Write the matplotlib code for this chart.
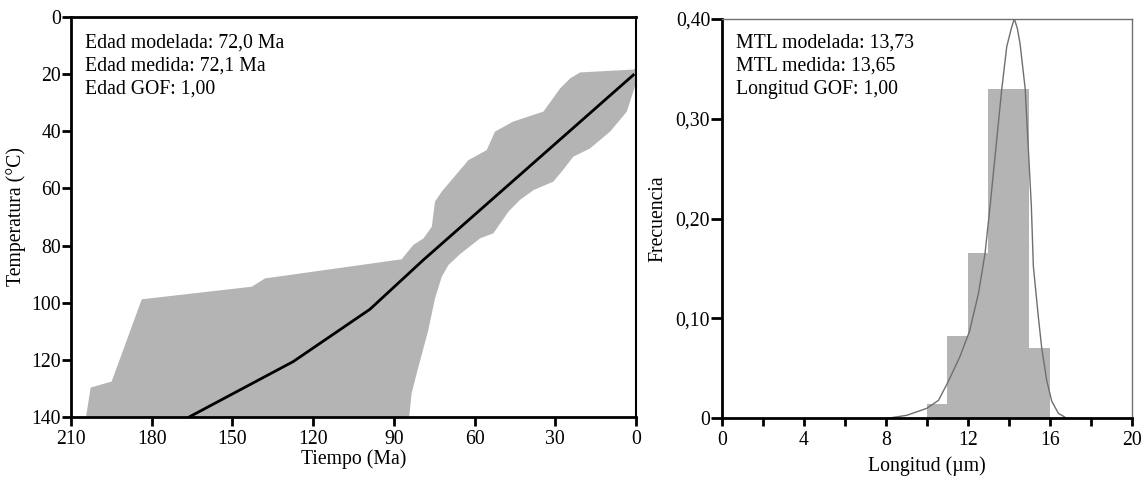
import matplotlib
matplotlib.use("Agg")
import matplotlib.pyplot as plt
from matplotlib.ticker import FixedLocator

plt.rcParams['font.family'] = ['Liberation Serif', 'DejaVu Serif']

# ---------------- Data: left panel (thermal history) ----------------
band_upper_time = [204.4, 202.7, 194.9, 183.7, 142.8, 137.9, 87.1, 82.8, 79.0, 75.9, 74.7, 72.2,
                   62.3, 55.5, 52.4, 45.6, 34.4, 28.2, 24.5, 20.8, 1.0, 0.0]
band_upper_temp = [140.0, 129.7, 127.6, 98.8, 94.4, 91.5, 84.8, 79.8, 77.5, 73.4, 64.6, 61.1,
                   50.1, 46.6, 40.1, 36.6, 33.1, 25.0, 21.5, 19.4, 18.4, 18.0]
band_lower_time = [0.0, 0.3, 3.4, 9.6, 17.1, 23.3, 27.6, 30.7, 38.1, 43.1, 47.4, 53.0, 58.0,
                   65.4, 69.7, 72.2, 74.7, 77.2, 81.5, 83.4, 84.3]
band_lower_temp = [19.0, 24.0, 33.1, 40.1, 46.0, 48.9, 54.1, 57.6, 60.6, 64.0, 68.1, 75.7, 77.5,
                   83.0, 86.8, 90.9, 98.5, 109.6, 124.7, 131.7, 140.0]
path_time = [166.1, 127.4, 98.9, 79.0, 1.0]
path_temp = [140.0, 120.6, 102.3, 85.0, 20.3]

left_xticks = [210, 180, 150, 120, 90, 60, 30, 0]
left_yticks = [0, 20, 40, 60, 80, 100, 120, 140]
left_text = ["Edad modelada: 72,0 Ma", "Edad medida: 72,1 Ma", "Edad GOF: 1,00"]

# ---------------- Data: right panel (track lengths) ----------------
bin_left = [10, 11, 12, 13, 14, 15]
bin_freq = [0.014, 0.082, 0.165, 0.330, 0.330, 0.070]
curve_x = [8.08, 9.02, 10.0, 10.57, 11.05, 11.62, 12.08, 12.52, 12.84, 13.09, 13.66, 13.9,
           14.12, 14.27, 14.42, 14.55, 14.8, 15.1, 15.2, 15.44, 15.61, 15.85, 16.1, 16.42, 16.83]
curve_y = [0.0, 0.003, 0.010, 0.018, 0.037, 0.062, 0.087, 0.125, 0.165, 0.213, 0.330, 0.372,
           0.390, 0.400, 0.390, 0.375, 0.330, 0.213, 0.152, 0.102, 0.070, 0.038, 0.017, 0.005, 0.0]
right_xticks = [0, 4, 8, 12, 16, 20]
right_xminor = [2, 6, 10, 14, 18]
right_yticks = [0, 0.10, 0.20, 0.30, 0.40]
right_ylabels = ["0", "0,10", "0,20", "0,30", "0,40"]
right_text = ["MTL modelada: 13,73", "MTL medida: 13,65", "Longitud GOF: 1,00"]

W, H = 1148, 479
fig = plt.figure(figsize=(W / 100, H / 100), dpi=100)

FS = 14.2
GRAY = "#b4b4b4"
LS = 1.28

# ---------------- Left panel ----------------
axL = fig.add_axes([71 / W, 1 - 417 / H, (636 - 71) / W, (417 - 17) / H])
poly_t = band_upper_time + band_lower_time
poly_T = band_upper_temp + band_lower_temp
axL.fill(poly_t, poly_T, color=GRAY, lw=0, zorder=1)
axL.plot(path_time, path_temp, color="black", lw=2, zorder=3)
axL.set_xlim(210, 0)
axL.set_ylim(140, 0)
axL.set_xticks(left_xticks)
axL.set_yticks(left_yticks)
for s in axL.spines.values():
    s.set_color("black")
    s.set_linewidth(2)
    s.set_zorder(5)
axL.spines['right'].set_linewidth(1.5)
axL.tick_params(axis='both', direction='out', length=6.5, width=2, labelsize=FS, color="black")
axL.tick_params(axis='y', pad=0.5)
axL.tick_params(axis='x', pad=3)
axL.set_xlabel("Tiempo (Ma)", fontsize=FS, labelpad=0)
axL.set_ylabel("Temperatura (°C)", fontsize=FS, labelpad=4)
axL.text((85 - 71) / (636 - 71), 1 - (34 - 17) / 400, "\n".join(left_text), transform=axL.transAxes,
         ha="left", va="top", fontsize=FS, linespacing=LS)

# ---------------- Right panel ----------------
axR = fig.add_axes([722 / W, 1 - 418.3 / H, (1131.7 - 722) / W, (418.3 - 18.7) / H])
axR.bar(bin_left, bin_freq, width=1.0, align="edge", color=GRAY, lw=0, zorder=1)
axR.plot(curve_x, curve_y, color="#6f6f6f", lw=1.0, zorder=3)
axR.set_xlim(0, 20)
axR.set_ylim(0, 0.40)
axR.xaxis.set_major_locator(FixedLocator(right_xticks))
axR.xaxis.set_minor_locator(FixedLocator(right_xminor))
axR.set_yticks(right_yticks)
axR.set_yticklabels(right_ylabels)
for name, s in axR.spines.items():
    s.set_zorder(5)
axR.spines['left'].set_color("black")
axR.spines['left'].set_linewidth(2)
axR.spines['bottom'].set_color("black")
axR.spines['bottom'].set_linewidth(2)
axR.spines['top'].set_color("#707070")
axR.spines['top'].set_linewidth(1)
axR.spines['right'].set_color("#707070")
axR.spines['right'].set_linewidth(1)
axR.tick_params(axis='both', which='both', direction='out', width=2, color="black", labelsize=FS)
axR.tick_params(axis='x', which='both', length=6, pad=3)
axR.tick_params(axis='y', length=8, pad=0.5)
axR.set_xlabel("Longitud (µm)", fontsize=FS, labelpad=5)
axR.set_ylabel("Frecuencia", fontsize=FS, labelpad=6)
axR.text((736 - 722) / (1131.7 - 722), 1 - (34 - 18.7) / 399.6, "\n".join(right_text),
         transform=axR.transAxes, ha="left", va="top", fontsize=FS, linespacing=LS)

fig.savefig("out.png", dpi=100)
